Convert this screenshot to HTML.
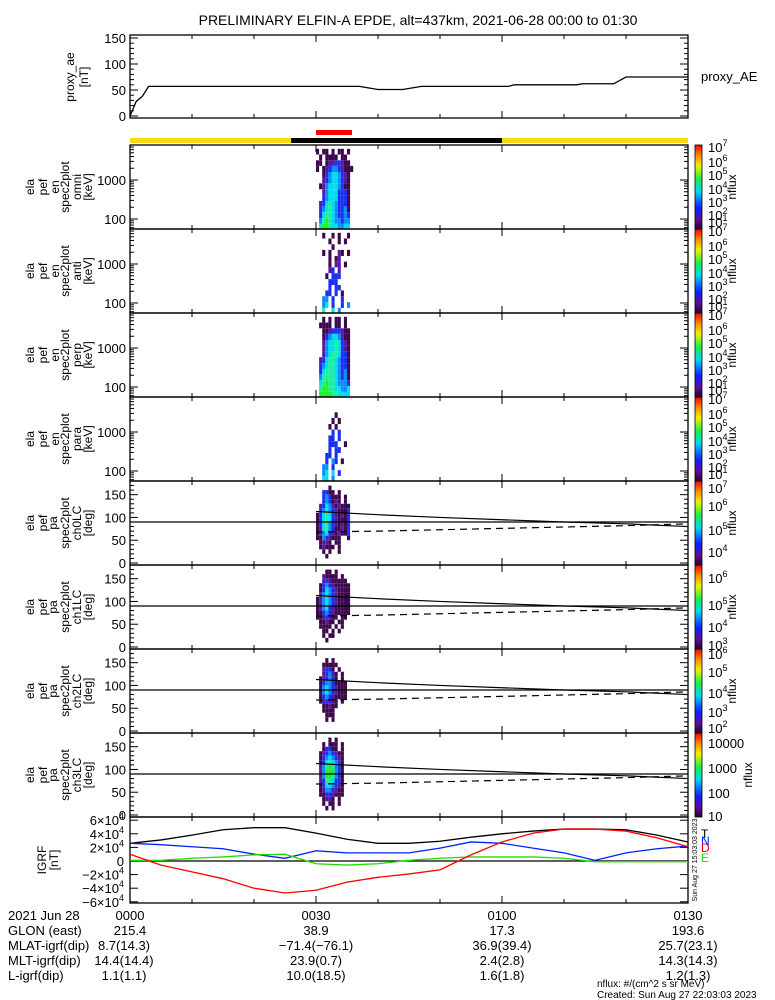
<!DOCTYPE html>
<html><head><meta charset="utf-8">
<style>
html,body{margin:0;padding:0;background:#fff;}
svg{display:block;font-family:"Liberation Sans","DejaVu Sans",sans-serif;}
text{fill:#000;}
</style></head>
<body>
<svg id="chart" width="775" height="1000" viewBox="0 0 775 1000" xmlns="http://www.w3.org/2000/svg">
<rect width="775" height="1000" fill="#fff"/>
<text x="418" y="25" font-size="14" text-anchor="middle">PRELIMINARY ELFIN-A EPDE, alt=437km, 2021-06-28 00:00 to 01:30</text>
<g id="layer"></g>
</svg>
<script>
// ---------- data ----------
const aeTimes=[0,1,2,3,37,40,44,47,61,62,72,73,78,80,90];
const aeValues=[0,28,38,57,57,51,51,57,57,60,60,62,62,75,75];
const igrfTimes=[0,5,10,15,20,25,30,35,40,45,50,55,60,65,70,75,80,85,90];
const igrfT=[2.6,3.1,3.8,4.6,4.9,4.9,4.1,3.2,2.6,2.6,2.9,3.5,4.0,4.4,4.7,4.7,4.6,3.8,2.8];
const igrfN=[2.6,2.4,2.1,1.8,1.0,0.4,1.5,1.2,1.2,1.2,1.9,2.8,2.6,1.9,1.2,0.1,1.2,1.8,2.2];
const igrfE=[0.1,0.1,0.4,0.6,0.9,1.0,-0.4,-0.6,-0.4,0.1,0.4,0.6,0.6,0.6,0.4,-0.1,-0.1,-0.1,-0.1];
const igrfD=[1.0,-0.6,-1.6,-2.6,-4.0,-4.7,-4.3,-3.1,-2.4,-1.9,-1.3,0.9,2.8,4.1,4.7,4.7,4.4,3.4,2.1];
const lcTimes=[30,40,50,60,70,80,90];
const lcSolid=[113,106,100,95,90,86,80];
const lcDashed=[68,70,73,76,79,82,86];
const colEdges=[30.0,30.5,31.0,31.5,32.0,32.5,33.0,33.5,34.0,34.5,35.0,35.5,36.0];
const energyEdges=[6300,4500,3200,2300,1600,1150,820,580,410,290,210,150,105,75,55];
const pitchEdges=[180,170,160,150,140,130,120,110,100,90,80,70,60,50,40,30,20,10,0];
const specOmni=["1.11.1.11.1.",".1.1111.11..","11.12233211.","1.1234432111","..134554321.","..234554321.",".1245554311.","..245553331.","..345553331.",".2356543331.",".3456543341.",".3566543343.",".4676544344.",".5776554455."];
const specAnti=["..1..1.1..1.","....1..1.1..",".....1......","..1.1..21.1.","....1.12....","....1.22.1..","....23.2....","...1.333....","....333.....","....3.33....","...33.3.1...","..44.3..3...","..45.3..3.4.","..6..5.4...."];
const specPerp=["..1.1.11.1..",".1111.11.1..","..112333211.","..134554211.","..245565321.","..245565321.","..245665331.",".2356654331.",".3456654331.",".3566654341.",".4666654341.",".5676654443.",".6776655445.",".7777665555."];
const specPara=["............","............","......1.....",".....1.1....","....1.1.....",".....3.3....","....33.3....","....333..1..","....3.33....","...33.3.....","...3.43.1...","..44.3......","..45.5.3....","..55.4......"];
const pa0=["............","....1.......","..3311.1....","..343111.1..","..343121.1..",".2354212111.",".3454321113.","13565321213.","13565321113.","13564321213.","12564311213.","12453212113.","11432111..1.",".1221.11....",".12111.1....","..1.1..1....","...1........","............"];
const pa1=["............","...11.1.....","..21111.1...","..23211111..",".1343211111.",".1354321111.",".2454321111.","12454321111.","12454321111.","12453211111.","11343211111.","1123211.11..",".11211.11...",".1111.1.1...","..11.1.1....","..1.11......","...1........","............"];
const pa2=["............","............","...1.1......","..11111.....","..2331.1....","..23421.1...",".123431.1...",".134431111..",".145432111..",".145432111..",".134321111..",".123321.1...","..11211.....","..1111......","...111......","...1.1......","............","............"];
const pa3=["............","....1.1.....","..1.111.1...","..13311.1...",".12343211...",".13454321...",".13565431...",".24676431...",".24777431...",".24776431...",".23665331...",".13554321...",".12443211...",".11332111...","..1221.1....","..1.11.1....","...1.1......","............"];

// ---------- helpers ----------
const NS="http://www.w3.org/2000/svg";
const layer=document.getElementById('layer');
function mk(tag,attrs,parent){const e=document.createElementNS(NS,tag);for(const k in attrs)e.setAttribute(k,attrs[k]);(parent||layer).appendChild(e);return e;}
const X0=130,X1=688;
function xT(t){return X0+t*(X1-X0)/90;}
const LVL=['','#3c0a4c','#5a18a0','#1a30f0','#0a8cff','#00dcf0','#1cf0a0','#22ee22'];

function frame(top,bot,name){
  const g=mk('g',{});
  
  
  mk('rect',{x:X0,y:top,width:X1-X0,height:bot-top,fill:'none',stroke:'#000','stroke-width':1.3},g);
  for(let t=0;t<=90;t+=10){
    const x=xT(t),len=(t%30===0)?7:4;
    mk('line',{x1:x,x2:x,y1:bot,y2:bot-len,stroke:'#000'},g);
    mk('line',{x1:x,x2:x,y1:top,y2:top+len,stroke:'#000'},g);
  }
  return g;
}
function yTicks(g,ys,labels,minors){
  ys.forEach((y,i)=>{
    mk('line',{x1:X0,x2:X0+8,y1:y,y2:y,stroke:'#000'},g);
    mk('line',{x1:X1,x2:X1-8,y1:y,y2:y,stroke:'#000'},g);
    if(labels[i]!==null){const t=mk('text',{x:X0-4,y:y+5,'font-size':13,'text-anchor':'end'},g);t.textContent=labels[i];}
  });
  (minors||[]).forEach(y=>{
    mk('line',{x1:X0,x2:X0+4,y1:y,y2:y,stroke:'#000'},g);
    mk('line',{x1:X1,x2:X1-4,y1:y,y2:y,stroke:'#000'},g);
  });
}
function sideLabel(lines,xs,yc,name){
  const g=mk('g',{});
  
  
  lines.forEach((s,i)=>{
    const t=mk('text',{x:0,y:0,'font-size':12,'text-anchor':'middle',transform:`translate(${xs[i]+4},${yc}) rotate(-90)`},g);
    t.textContent=s;
  });
}
function colorbar(top,bot,labels,name,nfx){
  const g=mk('g',{});
  
  
  const id='cg'+top;
  const lg=mk('linearGradient',{id:id,x1:0,y1:1,x2:0,y2:0},g);
  [['0','#2a0030'],['0.12','#5a10a0'],['0.25','#1020ff'],['0.45','#00d8f0'],['0.6','#20f040'],['0.75','#f0f000'],['0.87','#ff9000'],['1','#ff0000']].forEach(s=>mk('stop',{offset:s[0],'stop-color':s[1]},lg));
  mk('rect',{x:695,y:top,width:7,height:bot-top,fill:`url(#${id})`,stroke:'#000','stroke-width':0.8},g);
  labels.forEach(l=>{
    const t=mk('text',{x:708,y:l[0]+5,'font-size':13},g);
    if(l[2]){t.textContent=l[1];const s=mk('tspan',{dy:-6,'font-size':9},t);s.textContent=l[2];}
    else t.textContent=l[1];
  });
  const n=mk('text',{x:0,y:0,'font-size':12,'text-anchor':'middle',transform:`translate(${nfx},${(top+bot)/2}) rotate(-90)`},g);
  n.textContent='nflux';
}
function heat(rows,edgesY,yMap,name){
  const g=mk('g',{});
  
  
  rows.forEach((r,ri)=>{
    const y0=yMap(edgesY[ri]),y1=yMap(edgesY[ri+1]);
    for(let c=0;c<r.length;c++){
      const ch=r[c];if(ch==='.')continue;
      const xa=xT(colEdges[c]),xb=xT(colEdges[c+1]);
      const cell=mk('rect',{x:xa,y:Math.min(y0,y1),width:xb-xa,height:Math.abs(y1-y0),fill:LVL[+ch]},g);
      
      
    }
  });
}

// ---------- proxy AE ----------
(function(){
  const top=35,bot=118;
  const yAE=v=>116-v*(78/150);
  const g=frame(top,bot,'proxy-ae');
  yTicks(g,[0,50,100,150].map(yAE),['0','50','100','150'],[10,20,30,40,60,70,80,90,110,120,130,140].map(yAE));
  const pts=aeTimes.map((t,i)=>xT(t)+','+yAE(aeValues[i])).join(' ');
  const l=mk('polyline',{points:pts,fill:'none',stroke:'#000','stroke-width':1.3});
  
  
  sideLabel(['proxy_ae','[nT]'],[70,84],77,'proxy-ae-axis-title');
  const t=mk('text',{x:701,y:81,'font-size':13});t.textContent='proxy_AE';
  
  
})();

// ---------- status bars ----------
(function(){
  const y=mk('rect',{x:X0,y:138,width:X1-X0,height:5,fill:'#f5d90a'});
  
  
  const b=mk('rect',{x:xT(26),y:138,width:xT(60)-xT(26),height:5,fill:'#000'});
  
  
  const r=mk('rect',{x:xT(30),y:130,width:xT(35.8)-xT(30),height:5,fill:'#f00'});
  
  
})();

// ---------- energy spectrograms ----------
const specPanels=[[145,specOmni,'omni'],[229,specAnti,'anti'],[313,specPerp,'perp'],[397,specPara,'para']];
specPanels.forEach(p=>{
  const top=p[0],bot=top+84;
  const yE=e=>top+35-(Math.log10(e)-3)*39;
  heat(p[1],energyEdges,yE,'spec-'+p[2]);
  const g=frame(top,bot,'spec-'+p[2]);
  const minors=[];
  [60,70,80,90,200,300,400,500,600,700,800,900,2000,3000,4000,5000,6000,7000].forEach(e=>minors.push(yE(e)));
  yTicks(g,[yE(100),yE(1000)],['100','1000'],minors);
  sideLabel(['ela','pef','en','spec2plot',p[2],'[keV]'],[30,43,55,65,77,88],top+42,'spec-'+p[2]+'-axis-title');
  const b=top;
  colorbar(top,bot,[[b+2,'10','7'],[b+17,'10','6'],[b+30,'10','5'],[b+44,'10','4'],[b+57,'10','3'],[b+70,'10','2'],[b+77,'10','1']],'spec-'+p[2],736);
});

// ---------- pitch angle panels ----------
const paPanels=[[481,pa0,'ch0LC'],[565,pa1,'ch1LC'],[649,pa2,'ch2LC'],[733,pa3,'ch3LC']];
const cbLabels=[
 [[488,'10','7'],[506,'10','6'],[530,'10','5'],[552,'10','4']],
 [[578,'10','6'],[605,'10','5'],[627,'10','4'],[645,'10','3']],
 [[654,'10','6'],[672,'10','5'],[693,'10','4'],[712,'10','3'],[728,'10','2']],
 [[743,'10000'],[768,'1000'],[793,'100'],[816,'10']]
];
paPanels.forEach((p,pi)=>{
  const top=p[0],bot=top+84;
  const yP=d=>top+82-d*(82/180);
  heat(p[1],pitchEdges,yP,'pa-'+p[2]);
  const g=frame(top,bot,'pa-'+p[2]);
  const minors=[];for(let d=10;d<180;d+=10)if(d%50)minors.push(yP(d));
  yTicks(g,[0,50,100,150].map(yP),['0','50','100','150'],minors);
  const h=mk('line',{x1:X0,x2:X1,y1:yP(90),y2:yP(90),stroke:'#000','stroke-width':1.3});
  
  
  const s=mk('polyline',{points:lcTimes.map((t,i)=>xT(t)+','+yP(lcSolid[i])).join(' '),fill:'none',stroke:'#000','stroke-width':1.2});
  
  
  const d=mk('polyline',{points:lcTimes.map((t,i)=>xT(t)+','+yP(lcDashed[i])).join(' '),fill:'none',stroke:'#000','stroke-width':1.2,'stroke-dasharray':'7,5'});
  
  
  sideLabel(['ela','pef','pa','spec2plot',p[2],'[deg]'],[30,43,53,65,77,88],top+42,'pa-'+p[2]+'-axis-title');
  colorbar(top,bot,cbLabels[pi],'pa-'+p[2],pi===3?752:736);
});

// ---------- IGRF ----------
(function(){
  const top=817,bot=903;
  const yB=v=>861-v*6.8;
  const g=frame(top,bot,'igrf');
  [-6,-4,-2,0,2,4,6].forEach(v=>{
    const y=yB(v);
    mk('line',{x1:X0,x2:X0+8,y1:y,y2:y,stroke:'#000'},g);
    mk('line',{x1:X1,x2:X1-8,y1:y,y2:y,stroke:'#000'},g);
    const t=mk('text',{x:X0-6,y:y+5,'font-size':13,'text-anchor':'end'},g);
    if(v===0)t.textContent='0';
    else{t.textContent=(v<0?'\u2212':'')+Math.abs(v)+'\u00d710';const s=mk('tspan',{dy:-6,'font-size':9},t);s.textContent='4';}
  });
  const z=mk('line',{x1:X0,x2:X1,y1:yB(0),y2:yB(0),stroke:'#000','stroke-width':1.3});
  
  
  [[igrfT,'#000','igrf-total-line'],[igrfN,'#0022ff','igrf-north-line'],[igrfE,'#22dd00','igrf-east-line'],[igrfD,'#ff0000','igrf-down-line']].forEach(s=>{
    const l=mk('polyline',{points:igrfTimes.map((t,i)=>xT(t)+','+yB(s[0][i])).join(' '),fill:'none',stroke:s[1],'stroke-width':1.3});
    
    
  });
  sideLabel(['IGRF','[nT]'],[42,54],860,'igrf-axis-title');
  [['T','#000',838],['N','#0022ff',845],['D','#ff0000',852],['E','#22dd00',862]].forEach(c=>{
    const t=mk('text',{x:701,y:c[2],'font-size':12,fill:c[1]});t.textContent=c[0];
    t.setAttribute('fill',c[1]);t.style.fill=c[1];
    
    
  });
  const st=mk('text',{x:0,y:0,'font-size':7,'text-anchor':'middle',transform:'translate(697,860) rotate(-90)'});
  st.textContent='Sun Aug 27 15:03:03 2023';
})();

// ---------- footer ----------
const footLabels=['2021 Jun 28','GLON (east)','MLAT-igrf(dip)','MLT-igrf(dip)','L-igrf(dip)'];
const footTimes=[0,30,60,90];
const footRows=[['0000','0030','0100','0130'],['215.4','38.9','17.3','193.6'],['8.7(14.3)','\u221271.4(\u221276.1)','36.9(39.4)','25.7(23.1)'],['14.4(14.4)','23.9(0.7)','2.4(2.8)','14.3(14.3)'],['1.1(1.1)','10.0(18.5)','1.6(1.8)','1.2(1.3)']];
(function(){
  const g=mk('g',{});
  
  
  footLabels.forEach((l,i)=>{
    const y=920+i*15;
    const t=mk('text',{x:8,y:y,'font-size':13},g);t.textContent=l;
    footRows[i].forEach((v,j)=>{
      const tt=mk('text',{x:xT(footTimes[j])+(j===0&&i>1?-6:0),y:y,'font-size':13,'text-anchor':'middle'},g);tt.textContent=v;
    });
  });
  const a=mk('text',{x:597,y:987,'font-size':10},g);a.textContent='nflux: #/(cm^2 s sr MeV)';
  const b=mk('text',{x:597,y:998,'font-size':10},g);b.textContent='Created: Sun Aug 27 22:03:03 2023';
})();
</script>
</body></html>
